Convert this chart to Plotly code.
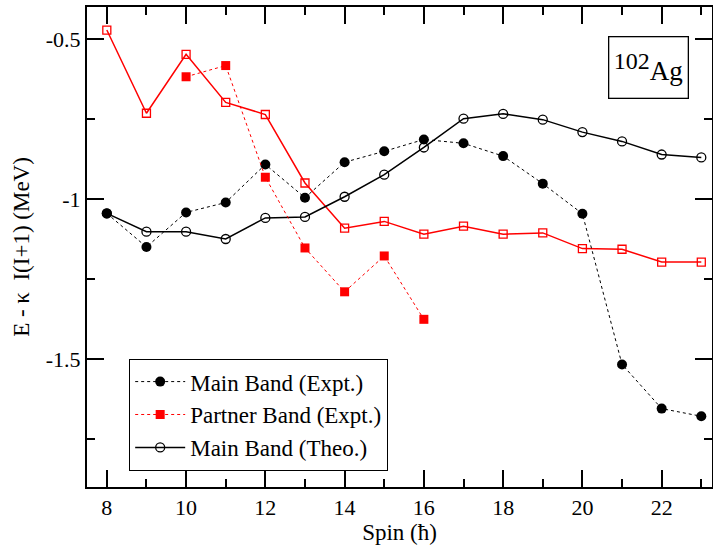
import plotly.graph_objects as go

spin = list(range(8, 24))
main_expt = [-1.045, -1.150, -1.042, -1.011, -0.892, -0.996, -0.885, -0.851,
             -0.814, -0.826, -0.866, -0.952, -1.046, -1.517, -1.655, -1.679]
main_theo = [-1.045, -1.102, -1.102, -1.125, -1.059, -1.056, -0.993, -0.924,
             -0.839, -0.749, -0.734, -0.752, -0.791, -0.820, -0.861, -0.870]
partner_theo = [-0.472, -0.732, -0.548, -0.698, -0.736, -0.950, -1.091, -1.070,
                -1.110, -1.085, -1.110, -1.106, -1.155, -1.157, -1.197, -1.197]
partner_spin = list(range(10, 17))
partner_expt = [-0.618, -0.583, -0.932, -1.153, -1.290, -1.178, -1.376]

xticks = [8, 10, 12, 14, 16, 18, 20, 22]
yticks = [-0.5, -1.0, -1.5]
yticklabels = ["-0.5", "-1", "-1.5"]

FONT = "Liberation Serif"
XR = [7.5, 23.27]
YR = [-1.9, -0.4]

fig = go.Figure()
fig.add_trace(go.Scatter(x=spin, y=partner_theo, mode="lines+markers", showlegend=False,
                         line=dict(color="red", width=1.5),
                         marker=dict(symbol="square-open", size=8, color="red", line=dict(width=1.3))))
fig.add_trace(go.Scatter(x=spin, y=main_theo, mode="lines+markers", name="Main Band (Theo.)",
                         legendrank=3,
                         line=dict(color="black", width=1.5),
                         marker=dict(symbol="circle-open", size=9, color="black", line=dict(width=1.3))))
fig.add_trace(go.Scatter(x=spin, y=main_expt, mode="lines+markers", name="Main Band (Expt.)",
                         legendrank=1,
                         line=dict(color="black", width=1, dash="dot"),
                         marker=dict(symbol="circle", size=10, color="black")))
fig.add_trace(go.Scatter(x=partner_spin, y=partner_expt, mode="lines+markers", name="Partner Band (Expt.)",
                         legendrank=2,
                         line=dict(color="red", width=1, dash="dot"),
                         marker=dict(symbol="square", size=9, color="red")))

fig.add_annotation(x=0.8976, y=0.873, xref="paper", yref="paper", showarrow=False,
                   xanchor="center", yanchor="middle",
                   text="<sup><span style='font-size:24px'>102</span></sup>Ag",
                   font=dict(family=FONT, size=27, color="black"),
                   width=76, height=58, borderpad=1,
                   bordercolor="black", borderwidth=1.3, bgcolor="white")

axis_common = dict(showline=True, linecolor="black", linewidth=2, showgrid=False, zeroline=False,
                   ticks="inside", ticklen=17, tickwidth=1.5, tickcolor="black",
                   mirror="allticks", automargin=False)

fig.update_layout(
    width=713, height=545,
    margin=dict(l=87, r=1, t=7, b=58),
    paper_bgcolor="white", plot_bgcolor="white",
    font=dict(family=FONT, size=22, color="black"),
    legend=dict(x=0.067, y=0.267, xanchor="left", yanchor="top",
                bordercolor="black", borderwidth=1.3, bgcolor="white",
                traceorder="normal", font=dict(family=FONT, size=23),
                tracegroupgap=0, itemwidth=50),
    xaxis=dict(range=XR, tickvals=xticks, tickfont=dict(family=FONT, size=22),
               minor=dict(ticks="inside", ticklen=8, dtick=1, tickwidth=1.5, tickcolor="black", showgrid=False),
               title=dict(text="Spin (ħ)", font=dict(family=FONT, size=23), standoff=2),
               **axis_common),
    yaxis=dict(range=YR, tickvals=yticks, ticktext=yticklabels, tickfont=dict(family=FONT, size=22),
               minor=dict(ticks="inside", ticklen=8, tickvals=[-0.75, -1.25, -1.75], tickwidth=1.5,
                          tickcolor="black", showgrid=False),
               title=dict(text="E - κ  I(I+1) (MeV)", font=dict(family=FONT, size=23), standoff=10),
               **axis_common),
)

fig.write_html("out.html", config={"displayModeBar": False},
               post_script="document.body.style.margin='0';document.body.style.overflow='hidden';")
